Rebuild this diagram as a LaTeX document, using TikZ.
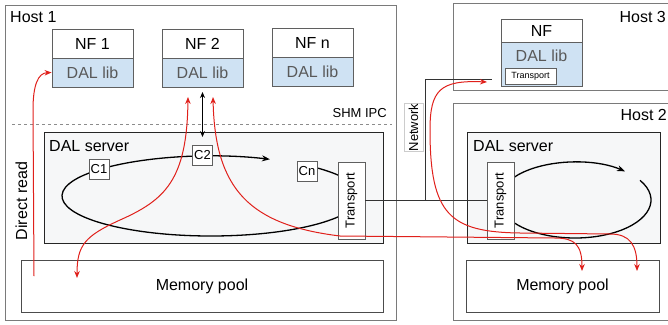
\documentclass[tikz,border=0pt]{standalone}
\usepackage{fontspec}
\setmainfont{Liberation Sans}
\usetikzlibrary{arrows.meta}

\definecolor{libblue}{HTML}{CFE2F3}
\definecolor{libtext}{HTML}{595959}
\definecolor{hostgray}{HTML}{7A7A7A}
\definecolor{boxgray}{HTML}{5F5F5F}
\definecolor{serverfill}{HTML}{F6F7F8}
\definecolor{flowred}{HTML}{E0201B}
\newcommand\fmain{\fontsize{16}{19}\selectfont}
\newcommand\fmid{\fontsize{13}{15}\selectfont}
\newcommand\ftiny{\fontsize{9}{11}\selectfont}

\begin{document}
\begin{tikzpicture}[x=1pt,y=-1pt,
    host/.style={draw=hostgray, line width=0.8pt, inner sep=0pt, outer sep=0pt, anchor=north west},
    nfbox/.style={draw=boxgray, line width=0.9pt, fill=white, minimum width=81pt, minimum height=29pt, inner sep=0pt, font=\fmain},
    libbox/.style={nfbox, fill=libblue, text=libtext},
    server/.style={draw=black!85, line width=1pt, fill=serverfill, inner sep=0pt},
    pool/.style={draw=black!70, line width=0.8pt, fill=white, inner sep=0pt, font=\fmain},
    cbox/.style={draw=boxgray, line width=0.8pt, fill=white, minimum width=20pt, minimum height=20pt, inner sep=1pt, font=\fmid},
    tport/.style={draw=boxgray, line width=0.8pt, fill=white, rotate=90, minimum width=77pt, minimum height=27pt, inner sep=0pt, font=\fmid},
    lbl/.style={inner sep=0pt, font=\fmain},
    cycleline/.style={draw=black, line width=1.3pt, -{Stealth[length=8pt,width=6pt]}},
    netline/.style={draw=black!80, line width=0.8pt},
    netbox/.style={draw=black!20, line width=0.6pt, minimum width=45pt, minimum height=19pt, inner sep=0pt, font=\fmid},
    redflow/.style={draw=flowred, line width=1pt},
    redtip/.tip={Stealth[length=7pt,width=5.5pt]}]
    \useasboundingbox (0,0) rectangle (668,324);

    % hosts
    \node[host, minimum width=391pt, minimum height=315pt] (host1) at (5,5) {};
    \node[host, minimum width=225pt, minimum height=87pt] (host3) at (453,3) {};
    \node[host, minimum width=225pt, minimum height=217pt] (host2) at (453,103) {};
    \node[lbl, anchor=base west] (host1lbl) at (10,22) {Host 1};
    \node[lbl, anchor=base east] (host3lbl) at (666,22) {Host 3};
    \node[lbl, anchor=base east] (host2lbl) at (667,120) {Host 2};

    % network functions
    \node[nfbox] (nf1) at (92.5,43.5) {NF 1};
    \node[libbox] (lib1) at (92.5,72.5) {DAL lib};
    \node[nfbox] (nf2) at (202.5,43.5) {NF 2};
    \node[libbox] (lib2) at (202.5,72.5) {DAL lib};
    \node[nfbox] (nfn) at (312.5,42.5) {NF n};
    \node[libbox] (libn) at (312.5,71.5) {DAL lib};
    \node[nfbox, minimum height=23pt] (nf3) at (541.5,30.5) {NF};
    \node[libbox, minimum height=44pt] (lib3) at (541.5,64) {};
    \node[lbl, text=libtext] (lib3lbl) at (541.5,56) {DAL lib};
    \node[draw=boxgray, line width=0.8pt, fill=white, minimum width=51pt, minimum height=16pt, inner sep=0pt, font=\ftiny] (tport3) at (530.5,76) {Transport};

    % shared memory boundary
    \draw[draw=black!45, line width=0.8pt, dashed] (12,124) -- (392,124);
    \node[lbl, font=\fmid, anchor=base east] (shmlbl) at (387,117) {SHM IPC};

    % DAL server, host 1
    \node[server, minimum width=339pt, minimum height=111pt] (server1) at (213.5,187.5) {};
    \node[lbl, anchor=base west] (server1lbl) at (49,151) {DAL server};
    \coordinate (ring1) at (211,196);
    \draw[cycleline] (ring1) ++(54.7:149pt and 40pt) arc[start angle=54.7, end angle=-293.3, x radius=149pt, y radius=40pt];
    \node[cbox] (c1) at (99,169.5) {C1};
    \node[cbox] (c2) at (202.5,155) {C2};
    \node[cbox] (cn) at (307,171) {Cn};
    \node[tport] (tport1) at (351.5,200.5) {Transport};

    % DAL server, host 2
    \node[server, minimum width=193pt, minimum height=111pt] (server2) at (563.5,187.5) {};
    \node[lbl, anchor=base west] (server2lbl) at (473,151) {DAL server};
    \coordinate (ring2) at (575,200);
    \draw[cycleline] (ring2) ++(31.2:76pt and 38pt) arc[start angle=31.2, end angle=-311.1, x radius=76pt, y radius=38pt];
    \node[tport] (tport2) at (500.5,200.5) {Transport};

    % memory pools
    \node[pool, minimum width=362pt, minimum height=52pt] (pool1) at (202,286) {Memory pool};
    \node[pool, minimum width=193pt, minimum height=52pt] (pool2) at (562.5,286) {Memory pool};

    % SHM IPC between NF 2 and the server
    \coordinate (ipctop) at (202.5,92);
    \coordinate (ipcbot) at (202.5,137);
    \draw[line width=1.2pt, {Stealth[length=6pt,width=5pt]}-{Stealth[length=6pt,width=5pt]}] (ipctop) -- (ipcbot);

    % network
    \coordinate (netbend) at (425,79);
    \coordinate (netend) at (492,79);
    \draw[netline] (tport1.south) -- (tport2.north);
    \draw[netline] (tport1.south -| netbend) -- (netbend) -- (netend);
    \node[netbox, rotate=90] (netlbl) at (413.5,127.5) {Network};

    % data flows
    \coordinate (readstart) at (34,276);
    \coordinate (up2a) at (188,97);
    \coordinate (up2b) at (213,97);
    \coordinate (pool1in) at (77,278);
    \coordinate (pool2ina) at (582,271);
    \coordinate (pool2inb) at (637,271);
    \coordinate (host3in) at (487,82);
    \draw[redflow, -{redtip}] (readstart) -- (33,110) .. controls (33,85) and (38,73) .. (lib1.west);
    \node[lbl, rotate=90] (readlbl) at (21.5,201) {Direct read};
    \draw[redflow, {redtip}-{redtip}] (up2a) .. controls (187,180) and (165,200) .. (120,220) .. controls (85,236) and (77,245) .. (pool1in);
    \draw[redflow, {redtip}-{redtip}] (up2b) .. controls (215,190) and (250,225) .. (340,236) -- (555,238) .. controls (575,238) and (582,245) .. (pool2ina);
    \draw[redflow, {redtip}-{redtip}] (host3in) .. controls (440,80) and (430,90) .. (430,130) .. controls (430,215) and (450,232) .. (520,233) -- (610,234) .. controls (630,234) and (637,245) .. (pool2inb);
\end{tikzpicture}
\end{document}
